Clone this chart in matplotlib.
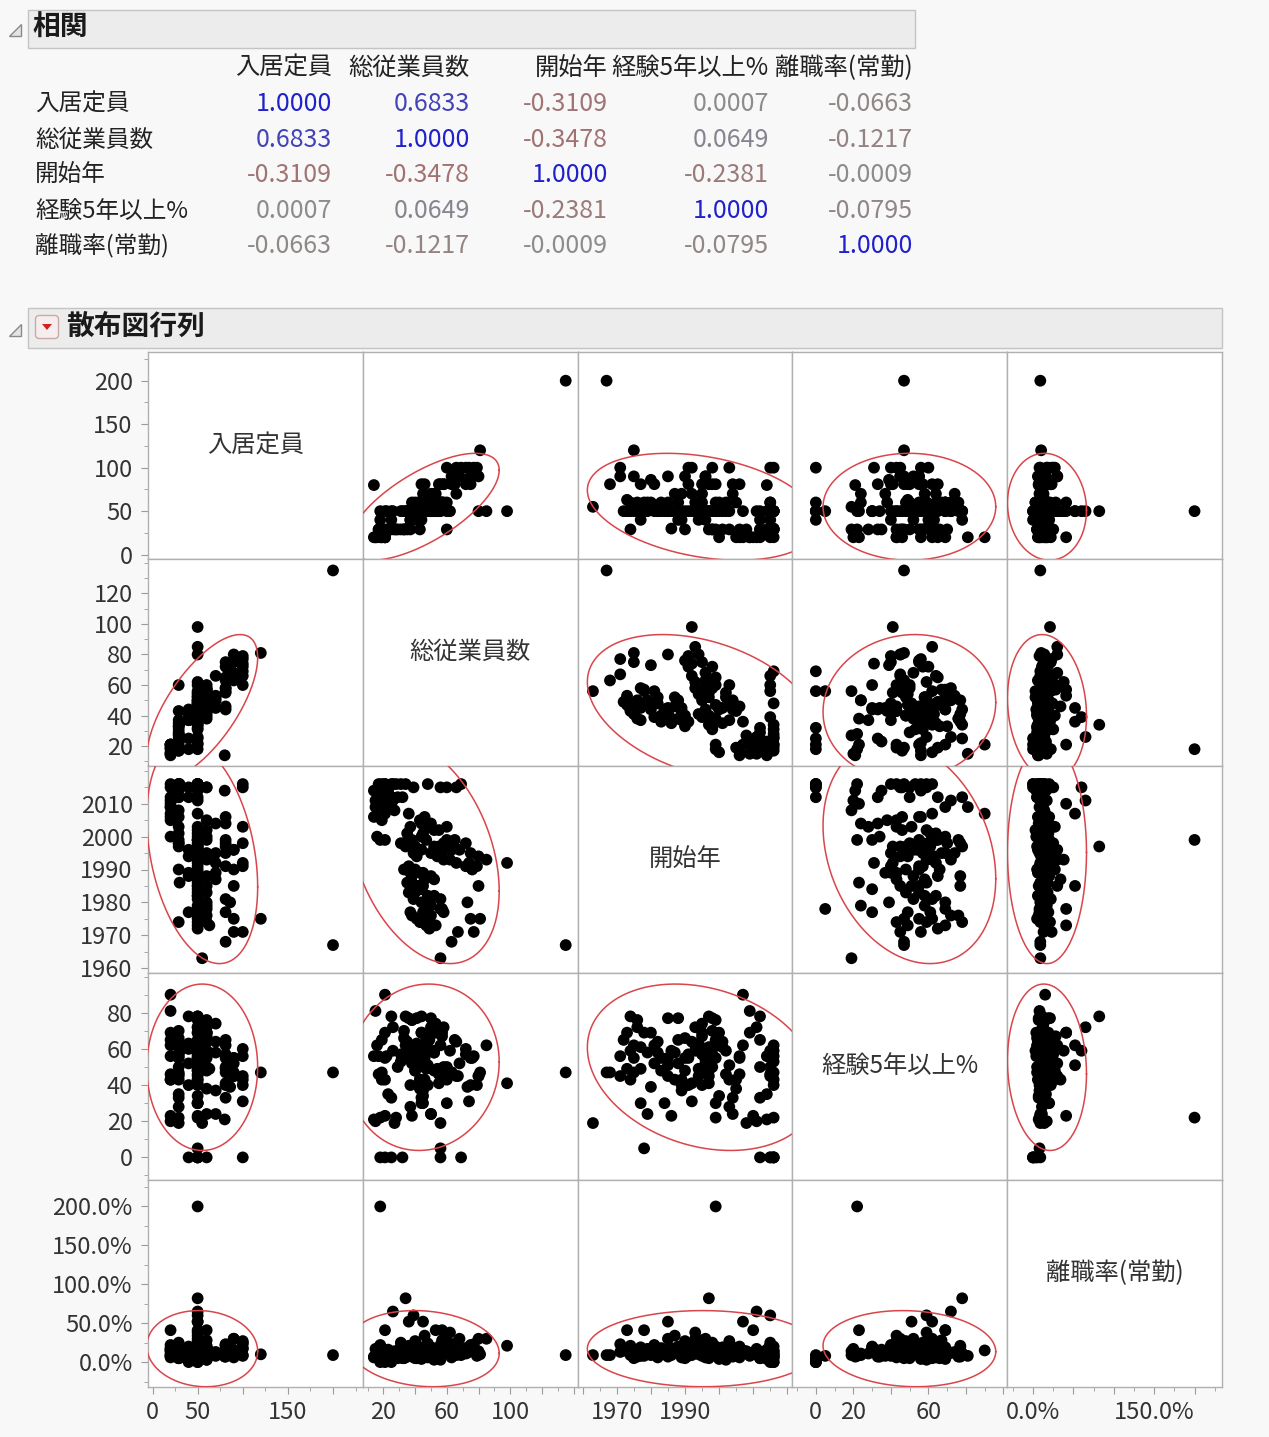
import numpy as np
import matplotlib.pyplot as plt
from matplotlib.patches import Rectangle, Polygon, FancyBboxPatch

plt.rcParams['font.family'] = ['Noto Sans CJK JP', 'DejaVu Sans']

W, H = 1269, 1437

# variable names and correlation table
names = ['入居定員', '総従業員数', '開始年', '経験5年以上%', '離職率(常勤)']
corr = [
    [1.0000, 0.6833, -0.3109, 0.0007, -0.0663],
    [0.6833, 1.0000, -0.3478, 0.0649, -0.1217],
    [-0.3109, -0.3478, 1.0000, -0.2381, -0.0009],
    [0.0007, 0.0649, -0.2381, 1.0000, -0.0795],
    [-0.0663, -0.1217, -0.0009, -0.0795, 1.0000],
]

# one entry per facility
capacity = [
    29, 29, 20, 50, 30, 29, 50, 50, 50, 60,
    60, 100, 100, 40, 50, 40, 50, 20, 80, 29,
    20, 29, 29, 20, 50, 20, 20, 29, 20, 20,
    20, 29, 20, 50, 60, 81, 81, 29, 50, 60,
    50, 70, 100, 50, 29, 20, 29, 50, 29, 50,
    50, 50, 60, 81, 81, 90, 50, 50, 40, 50,
    70, 60, 50, 50, 29, 81, 100, 90, 50, 29,
    50, 60, 40, 50, 81, 50, 60, 70, 50, 81,
    90, 100, 100, 29, 50, 50, 40, 50, 60, 50,
    70, 50, 30, 50, 50, 60, 50, 90, 50, 40,
    50, 50, 70, 50, 60, 50, 50, 81, 50, 60,
    86, 50, 60, 60, 50, 81, 50, 60, 50, 120,
    90, 50, 60, 50, 29, 50, 63, 90, 100, 81,
    200, 55, 50, 40, 50, 50,
]
staff = [
    17, 19, 21, 25, 26, 28, 31, 34, 48, 56,
    60, 66, 69, 18, 39, 25, 22, 18, 14, 23,
    19, 25, 29, 15, 26, 21, 15, 27, 21, 21,
    14, 17, 19, 36, 43, 46, 44, 37, 48, 52,
    55, 50, 60, 45, 35, 16, 21, 18, 33, 36,
    40, 38, 47, 55, 58, 63, 34, 42, 44, 50,
    53, 57, 45, 52, 31, 65, 72, 68, 39, 60,
    60, 44, 41, 54, 75, 62, 58, 66, 98, 72,
    76, 79, 74, 33, 36, 40, 37, 43, 47, 50,
    52, 46, 35, 38, 45, 42, 41, 80, 44, 38,
    85, 80, 45, 36, 40, 48, 52, 56, 39, 44,
    73, 47, 50, 57, 56, 58, 45, 38, 50, 81,
    75, 41, 48, 44, 43, 53, 47, 67, 77, 63,
    135, 56, 49, 37, 21, 32,
]
start_year = [
    2016, 2016, 2016, 2016, 2016, 2016, 2016, 2016, 2016, 2015,
    2015, 2015, 2016, 2015, 2015, 2012, 2014, 2015, 2014, 2014,
    2012, 2012, 2012, 2011, 2011, 2009, 2009, 2008, 2007, 2010,
    2006, 2006, 2005, 2007, 2005, 2006, 2004, 2003, 2003, 2002,
    2002, 2004, 2003, 2001, 2001, 2000, 1999, 1999, 1998, 1998,
    1997, 1999, 1999, 1997, 1998, 1996, 1997, 1996, 1996, 1995,
    1995, 1995, 2000, 1997, 1998, 1999, 1998, 1996, 1995, 1997,
    1999, 2000, 1994, 1994, 1995, 1993, 1993, 1992, 1992, 1991,
    1990, 1991, 1992, 1990, 1991, 1990, 1989, 1989, 1988, 1988,
    1987, 1987, 1986, 1986, 1985, 1985, 1985, 1985, 1984, 1988,
    1993, 1994, 1989, 1983, 1983, 1982, 1982, 1981, 1981, 1980,
    1980, 1979, 1979, 1978, 1978, 1977, 1977, 1976, 1976, 1975,
    1975, 1975, 1974, 1974, 1974, 1973, 1973, 1971, 1971, 1968,
    1967, 1963, 1972, 1977, 2016, 2012,
]
exp5 = [
    56, 47, 43, 0, 59, 22, 53, 62, 40, 0,
    50, 45, 0, 0, 59, 78, 56, 46, 21, 35,
    65, 33, 50, 20, 72, 69, 81, 19, 90, 23,
    56, 46, 43, 62, 38, 55, 33, 28, 51, 59,
    46, 24, 43, 61, 64, 62, 55, 22, 70, 77,
    61, 76, 64, 41, 50, 47, 78, 54, 60, 69,
    74, 67, 34, 48, 57, 65, 60, 52, 57, 45,
    30, 69, 63, 49, 40, 59, 72, 64, 41, 57,
    55, 40, 31, 66, 55, 48, 40, 43, 65, 77,
    58, 43, 59, 23, 51, 55, 77, 45, 30, 52,
    62, 45, 37, 55, 48, 64, 58, 62, 52, 69,
    39, 58, 24, 69, 5, 49, 30, 76, 72, 47,
    55, 62, 59, 78, 43, 69, 49, 45, 56, 47,
    47, 19, 65, 61, 0, 0,
]
# turnover, in percent
turnover = [
    10, 5, 15, 0, 12, 8, 20, 6, 14, 3,
    18, 25, 9, 0, 60, 11, 4, 22, 7, 16,
    9, 13, 5, 17, 65, 12, 8, 14, 15, 41,
    6, 10, 18, 52, 15, 20, 7, 11, 24, 3,
    16, 9, 27, 13, 19, 8, 14, 200, 10, 21,
    5, 12, 17, 9, 23, 6, 82, 15, 11, 19,
    13, 28, 7, 17, 25, 14, 18, 30, 8, 12,
    20, 4, 16, 10, 22, 38, 12, 9, 21, 11,
    14, 8, 17, 5, 13, 27, 10, 6, 15, 19,
    12, 34, 18, 9, 52, 11, 7, 30, 16, 20,
    30, 14, 8, 13, 18, 6, 10, 22, 15, 9,
    12, 17, 11, 41, 8, 14, 19, 7, 12, 10,
    16, 5, 21, 11, 9, 41, 14, 13, 23, 9,
    9, 9, 15, 8, 0, 5,
]

data = [np.array(capacity, float), np.array(staff, float),
        np.array(start_year, float), np.array(exp5, float),
        np.array(turnover, float)]
lims = [(-5, 233), (7, 142.5), (1958.5, 2021.5), (-12.5, 102), (-32, 234)]

# left axis ticks for each row
ytick_vals = [
    [0, 50, 100, 150, 200],
    [20, 40, 60, 80, 100, 120],
    [1960, 1970, 1980, 1990, 2000, 2010],
    [0, 20, 40, 60, 80],
    [0, 50, 100, 150, 200],
]
ytick_labels = [
    ['0', '50', '100', '150', '200'],
    ['20', '40', '60', '80', '100', '120'],
    ['1960', '1970', '1980', '1990', '2000', '2010'],
    ['0', '20', '40', '60', '80'],
    ['0.0%', '50.0%', '100.0%', '150.0%', '200.0%'],
]
# bottom axis ticks for each column
xtick_vals = [
    [0, 50, 100, 150, 200],
    [20, 40, 60, 80, 100, 120, 140],
    [1960, 1970, 1980, 1990, 2000, 2010, 2020],
    [0, 20, 40, 60, 80, 100],
    [0, 50, 100, 150, 200],
]
xtick_labels = [
    ['0', '50', '', '150', ''],
    ['20', '', '60', '', '100', '', ''],
    ['', '1970', '', '1990', '', '', ''],
    ['0', '20', '', '60', '', ''],
    ['0.0%', '', '', '150.0%', ''],
]
minor_steps = [25, 10, 5, 10, 25]

fig = plt.figure(figsize=(W / 100, H / 100), dpi=100, facecolor='#f8f8f8')

# overlay in pixel units for headers and the table
bg = fig.add_axes([0, 0, 1, 1], zorder=-1)
bg.set_xlim(0, W)
bg.set_ylim(H, 0)
bg.axis('off')


def header_bar(x0, x1, y0, y1, title, tx):
    bg.add_patch(Rectangle((x0, y0), x1 - x0, y1 - y0, facecolor='#ececec',
                           edgecolor='#c4c4c4', lw=1))
    bg.add_patch(Polygon([(9, y1 - 12), (21, y1 - 12), (21, y1 - 24)],
                         closed=True, facecolor='#e4e4e4', edgecolor='#8a8a8a', lw=1))
    bg.text(tx, (y0 + y1) / 2 - 1, title, fontsize=20, fontweight='bold',
            color='#1a1a1a', ha='left', va='center')


header_bar(28, 915, 10, 48, '相関', 32)
header_bar(28, 1222, 308, 348, '散布図行列', 66)

# red menu button
bg.add_patch(FancyBboxPatch((37, 317), 20, 20, boxstyle='round,pad=1.5,rounding_size=4',
                            facecolor='#f6eeee', edgecolor='#c9a9a9', lw=1))
bg.add_patch(Polygon([(42, 324), (52, 324), (47, 330)], closed=True,
                     facecolor='#d42020', edgecolor='none'))


def corr_color(r):
    gray = np.array([0.55, 0.55, 0.55])
    if r > 0:
        target = np.array([0.13, 0.13, 0.80])
    else:
        target = np.array([0.80, 0.25, 0.25])
    a = min(abs(r), 1.0)
    return tuple(gray + (target - gray) * a)


col_right = [332, 470, 608, 769, 913]
row_y = [104, 140, 175, 211, 246]
for j, nm in enumerate(names):
    bg.text(col_right[j], 68, nm, fontsize=17.5, color='#222222', ha='right', va='center')
for i, nm in enumerate(names):
    bg.text(35, row_y[i], nm, fontsize=17, color='#222222', ha='left', va='center')
    for j in range(5):
        r = corr[i][j]
        bg.text(col_right[j], row_y[i], f'{r:.4f}', fontsize=18,
                color=corr_color(r), ha='right', va='center')

# scatterplot matrix
left, top = 148, 352
cw, rh = 214.8, 207
chi_r = np.sqrt(5.991)
t = np.linspace(0, 2 * np.pi, 300)

for i in range(5):
    for j in range(5):
        ax = fig.add_axes([(left + j * cw) / W, 1 - (top + (i + 1) * rh) / H, cw / W, rh / H])
        ax.set_facecolor('white')
        ax.set_xlim(*lims[j])
        ax.set_ylim(*lims[i])
        for sp in ax.spines.values():
            sp.set_color('#b0b0b0')
            sp.set_linewidth(1)

        if i == j:
            ax.text(0.5, 0.55, names[i], transform=ax.transAxes, fontsize=17.5,
                    color='#333333', ha='center', va='center')
        else:
            xv, yv = data[j], data[i]
            ax.scatter(xv, yv, s=72, color='black', edgecolors='none', zorder=2)
            # 95% density ellipse
            mx, my = xv.mean(), yv.mean()
            sx, sy = xv.std(ddof=1), yv.std(ddof=1)
            r = corr[i][j]
            ex = mx + chi_r * sx * np.cos(t)
            ey = my + chi_r * sy * (r * np.cos(t) + np.sqrt(1 - r * r) * np.sin(t))
            ax.plot(ex, ey, color='#d9454a', lw=1.1, zorder=3)

        ax.tick_params(which='both', colors='#9a9a9a', labelcolor='#333333',
                       labelsize=17, direction='out')
        ax.tick_params(which='major', length=5)
        ax.tick_params(which='minor', length=3)
        ax.tick_params(axis='y', pad=6)
        ax.tick_params(axis='x', pad=5)

        if j == 0:
            ax.set_yticks(ytick_vals[i])
            ax.set_yticklabels(ytick_labels[i])
            ax.yaxis.set_minor_locator(plt.MultipleLocator(minor_steps[i]))
        else:
            ax.set_yticks([])
            ax.set_yticks([], minor=True)
        if i == 4:
            ax.set_xticks(xtick_vals[j])
            ax.set_xticklabels(xtick_labels[j])
            ax.xaxis.set_minor_locator(plt.MultipleLocator(minor_steps[j]))
        else:
            ax.set_xticks([])
            ax.set_xticks([], minor=True)

fig.savefig('out.png', dpi=100, facecolor=fig.get_facecolor())
